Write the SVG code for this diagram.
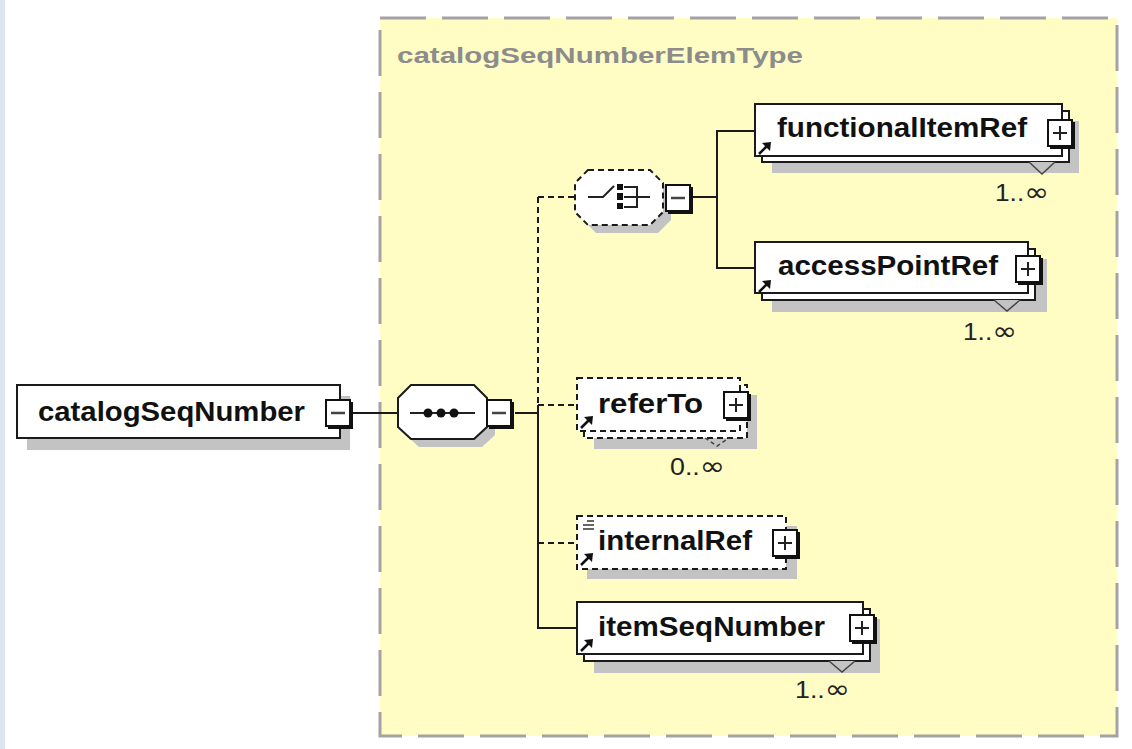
<svg xmlns="http://www.w3.org/2000/svg" width="1132" height="749" viewBox="0 0 1132 749">
<style>
.lbl{font-family:"Liberation Sans",Arial,sans-serif;font-weight:bold;font-size:27px;fill:#111}
.mul{font-family:"Liberation Sans",Arial,sans-serif;font-size:23px;fill:#222}
.inf{font-family:"DejaVu Sans",sans-serif;font-size:26px}
.ttl{font-family:"Liberation Sans",Arial,sans-serif;font-weight:bold;font-size:22px;fill:#8c8c8c}
.box{fill:#fff;stroke:#1a1a1a;stroke-width:2}
.dbox{fill:#fff;stroke:#1a1a1a;stroke-width:2;stroke-dasharray:6 4}
.sh{fill:#c3c3c3}
.con{fill:none;stroke:#1a1a1a;stroke-width:2}
.dcon{fill:none;stroke:#1a1a1a;stroke-width:2;stroke-dasharray:6 4}
.tri{fill:#c3c3c3;stroke:#444;stroke-width:1.5}
</style>
<defs>
<g id="plus">
<rect x="0" y="0" width="24" height="26" fill="#fff" stroke="#111" stroke-width="2"/>
<polyline points="25.5,2 25.5,27.5 2,27.5" fill="none" stroke="#111" stroke-width="3"/>
<line x1="5" y1="13" x2="19" y2="13" stroke="#222" stroke-width="2"/>
<line x1="12" y1="6" x2="12" y2="20" stroke="#222" stroke-width="2"/>
</g>
<g id="minus">
<rect x="0" y="0" width="24" height="26" fill="#fff" stroke="#111" stroke-width="2"/>
<polyline points="25.5,2 25.5,27.5 2,27.5" fill="none" stroke="#111" stroke-width="3"/>
<line x1="5" y1="13" x2="19" y2="13" stroke="#444" stroke-width="2.5"/>
</g>
<g id="arr">
<line x1="0" y1="12" x2="8" y2="4" stroke="#111" stroke-width="2.5"/>
<polygon points="12,0 3,1 11,9" fill="#111"/>
</g>
</defs>
<rect x="0" y="0" width="1132" height="749" fill="#fff"/>
<rect x="0" y="0" width="5" height="749" fill="#dbe5f1"/>
<g id="complexType">
<rect x="380" y="18" width="737" height="718" fill="#fffcc4" stroke="#a3a3a3" stroke-width="3" stroke-dasharray="46 16"/>
<text class="ttl" x="397" y="63" textLength="406" lengthAdjust="spacingAndGlyphs">catalogSeqNumberElemType</text>
</g>
<g id="connectors">
<line class="con" x1="352" y1="413" x2="398" y2="413"/>
<line class="con" x1="515" y1="413" x2="538" y2="413"/>
<line class="dcon" x1="538" y1="197" x2="538" y2="405"/>
<line class="con" x1="538" y1="405" x2="538" y2="628"/>
<line class="dcon" x1="538" y1="197" x2="575" y2="197"/>
<line class="dcon" x1="538" y1="405" x2="577" y2="405"/>
<line class="dcon" x1="538" y1="543" x2="577" y2="543"/>
<line class="con" x1="537" y1="628" x2="577" y2="628"/>
<line class="con" x1="693" y1="197" x2="717" y2="197"/>
<line class="con" x1="717" y1="130" x2="717" y2="269"/>
<line class="con" x1="716" y1="131" x2="755" y2="131"/>
<line class="con" x1="716" y1="268" x2="755" y2="268"/>
</g>
<g id="catalogSeqNumber">
<rect class="sh" x="27" y="396" width="323" height="54"/>
<rect class="box" x="17" y="385" width="323" height="53"/>
<text class="lbl" x="38" y="421" textLength="267" lengthAdjust="spacingAndGlyphs">catalogSeqNumber</text>
<use href="#minus" x="326" y="400"/>
</g>
<g id="sequence">
<polygon class="sh" points="419,393 482,393 495,406 495,435 482,447 419,447 406,435 406,406"/>
<polygon class="box" points="411,385 474,385 487,398 487,427 474,439 411,439 398,427 398,398"/>
<line x1="410" y1="413" x2="475" y2="413" stroke="#222" stroke-width="2"/>
<circle cx="428" cy="413" r="4.5" fill="#111"/>
<circle cx="441" cy="413" r="4.5" fill="#111"/>
<circle cx="454" cy="413" r="4.5" fill="#111"/>
<use href="#minus" x="487" y="400"/>
</g>
<g id="choice">
<polygon class="sh" points="596,178 658,178 671,191 671,220 658,233 596,233 583,220 583,191"/>
<polygon class="dbox" points="588,170 650,170 663,183 663,212 650,225 588,225 575,212 575,183"/>
<polyline points="588,197 603,197 614,186" fill="none" stroke="#222" stroke-width="2"/>
<rect x="617" y="184" width="6" height="6" fill="#111"/>
<rect x="617" y="193" width="6" height="7" fill="#111"/>
<rect x="617" y="203" width="6" height="6" fill="#111"/>
<polyline points="624,187 637,187 637,207 624,207" fill="none" stroke="#222" stroke-width="2"/>
<line x1="624" y1="197" x2="650" y2="197" stroke="#222" stroke-width="2"/>
<use href="#minus" x="666" y="185"/>
</g>
<g id="functionalItemRef">
<rect class="sh" x="772" y="121" width="307" height="52"/>
<rect class="box" x="762" y="111" width="307" height="51"/>
<rect class="box" x="755" y="104" width="307" height="52"/>
<polyline class="tri" points="1029,162 1042,174 1055,162"/>
<text class="lbl" x="777" y="137" textLength="250" lengthAdjust="spacingAndGlyphs">functionalItemRef</text>
<use href="#arr" x="759" y="142"/>
<use href="#plus" x="1048" y="120"/>
<text class="mul" x="995" y="201" textLength="54" lengthAdjust="spacingAndGlyphs">1..<tspan class="inf">∞</tspan></text>
</g>
<g id="accessPointRef">
<rect class="sh" x="772" y="259" width="275" height="53"/>
<rect class="box" x="762" y="249" width="273" height="51"/>
<rect class="box" x="755" y="242" width="273" height="51"/>
<polyline class="tri" points="994,300 1007,311 1020,300"/>
<text class="lbl" x="778" y="275" textLength="220" lengthAdjust="spacingAndGlyphs">accessPointRef</text>
<use href="#arr" x="759" y="280"/>
<use href="#plus" x="1016" y="256"/>
<text class="mul" x="963" y="340" textLength="54" lengthAdjust="spacingAndGlyphs">1..<tspan class="inf">∞</tspan></text>
</g>
<g id="referTo">
<rect class="sh" x="594" y="395" width="163" height="54"/>
<rect class="dbox" x="584" y="385" width="163" height="53"/>
<rect class="dbox" x="577" y="378" width="163" height="53"/>
<polyline points="705,438 717,446 729,438" fill="none" stroke="#444" stroke-width="1.5" stroke-dasharray="4 3"/>
<text class="lbl" x="598" y="413" textLength="105" lengthAdjust="spacingAndGlyphs">referTo</text>
<use href="#arr" x="581" y="416"/>
<use href="#plus" x="724" y="392"/>
<text class="mul" x="670" y="475" textLength="55" lengthAdjust="spacingAndGlyphs">0..<tspan class="inf">∞</tspan></text>
</g>
<g id="internalRef">
<rect class="sh" x="587" y="526" width="210" height="53"/>
<rect class="dbox" x="577" y="516" width="209" height="53"/>
<line x1="587" y1="521" x2="594" y2="521" stroke="#333" stroke-width="1.5"/>
<line x1="583" y1="525" x2="594" y2="525" stroke="#333" stroke-width="1.5"/>
<line x1="583" y1="529" x2="594" y2="529" stroke="#333" stroke-width="1.5"/>
<text class="lbl" x="598" y="550" textLength="154" lengthAdjust="spacingAndGlyphs">internalRef</text>
<use href="#arr" x="581" y="553"/>
<use href="#plus" x="773" y="530"/>
</g>
<g id="itemSeqNumber">
<rect class="sh" x="594" y="619" width="286" height="54"/>
<rect class="box" x="584" y="609" width="286" height="52"/>
<rect class="box" x="577" y="602" width="286" height="52"/>
<polyline class="tri" points="829,661 842,672 855,661"/>
<text class="lbl" x="598" y="636" textLength="227" lengthAdjust="spacingAndGlyphs">itemSeqNumber</text>
<use href="#arr" x="581" y="639"/>
<use href="#plus" x="850" y="615"/>
<text class="mul" x="795" y="698" textLength="55" lengthAdjust="spacingAndGlyphs">1..<tspan class="inf">∞</tspan></text>
</g>
</svg>
